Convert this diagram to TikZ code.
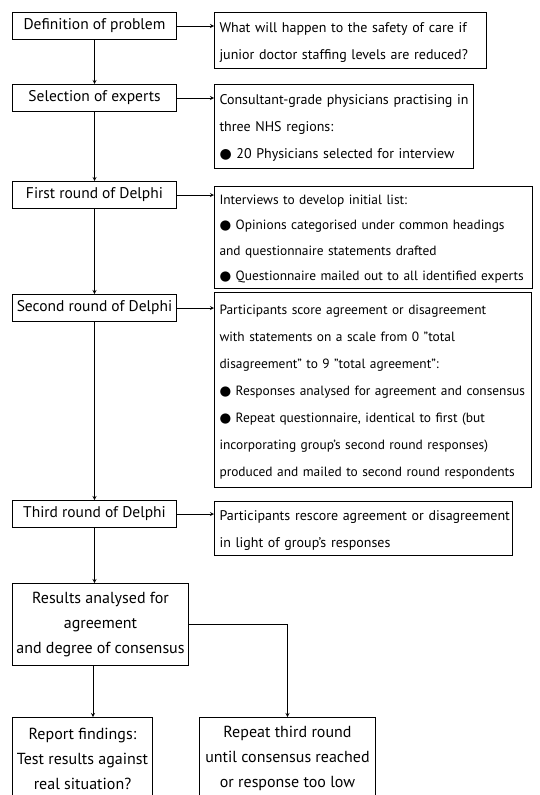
\documentclass[tikz,border=0pt]{standalone}
\usepackage{fontspec}
\setmainfont{PT Sans}
\newfontfamily\symfont{DejaVu Sans}
\usetikzlibrary{arrows}
\newcommand{\bul}{{\symfont\char"25CF}\ }
\tikzstyle{stage} = [rectangle, anchor=north west, minimum width=164pt, minimum height=27pt, inner sep=0pt, text centered, draw=black, line width=1pt, font=\fontsize{15.5}{27}\selectfont]
\tikzstyle{detail} = [rectangle, anchor=north west, inner xsep=5pt, inner ysep=0pt, align=left, draw=black, line width=1pt, font=\fontsize{14}{27}\selectfont]
\tikzstyle{outcome} = [rectangle, anchor=north west, inner sep=0pt, align=center, draw=black, line width=1pt, font=\fontsize{16}{25}\selectfont]
\tikzstyle{arrow} = [line width=0.8pt, ->, >=stealth]

\begin{document}
\begin{tikzpicture}[x=1pt, y=-1pt]
	\useasboundingbox (0,0) rectangle (540,795);
	\node (def) [stage] at (12,12) {Definition of problem};
	\node (sel) [stage] at (12,84) {Selection of experts};
	\node (rd1) [stage] at (12,181) {First round of Delphi};
	\node (rd2) [stage] at (12,294) {Second round of Delphi};
	\node (rd3) [stage] at (12,500) {Third round of Delphi};
	\node (res) [outcome, minimum width=176pt, minimum height=82pt] at (12,583) {Results analysed for\\agreement\\and degree of consensus};
	\node (rep) [outcome, minimum width=140pt, minimum height=82pt] at (12,717) {Report findings:\\Test results against\\real situation?};
	\node (rpt) [outcome, minimum width=176pt, minimum height=82pt] at (199,717) {Repeat third round\\until consensus reached\\or response too low};
	
	\node (prob) [detail, text width=262pt, minimum height=56pt] at (214,12) {\noindent\begin{tabular}{@{}l@{}}What will happen to the safety of care if\\junior doctor staffing levels are reduced?\end{tabular}};
	\node (exp) [detail, text width=249pt, minimum height=84pt] at (214,84) {\noindent\begin{tabular}{@{}l@{}}Consultant-grade physicians practising in\\three NHS regions:\\\bul 20 Physicians selected for interview\end{tabular}};
	\node (int) [detail, text width=308pt, minimum height=102pt, font=\fontsize{13.4}{25.5}\selectfont] at (214,186) {\noindent\begin{tabular}{@{}l@{}}Interviews to develop initial list:\\\bul Opinions categorised under common headings\\and questionnaire statements drafted\\\bul Questionnaire mailed out to all identified experts\end{tabular}};
	\node (score) [detail, text width=307pt, minimum height=195pt, font=\fontsize{13.4}{27}\selectfont] at (214,292) {\noindent\begin{tabular}{@{}l@{}}Participants score agreement or disagreement\\with statements on a scale from 0 "total\\disagreement" to 9 "total agreement":\\\bul Responses analysed for agreement and consensus\\\bul Repeat questionnaire, identical to first (but\\incorporating group's second round responses)\\produced and mailed to second round respondents\end{tabular}};
	\node (rescore) [detail, text width=288pt, minimum height=54pt] at (214,501) {\noindent\begin{tabular}{@{}l@{}}Participants rescore agreement or disagreement\\in light of group's responses\end{tabular}};
	
	\coordinate (lft) at (93,0);
	\draw [arrow] (def.south) -- (sel.north);
	\draw [arrow] (sel.south) -- (rd1.north);
	\draw [arrow] (rd1.south) -- (rd2.north);
	\draw [arrow] (rd2.south) -- (rd3.north);
	\draw [arrow] (rd3.south) -- (rd3.south |- res.north);
	\draw [arrow] (res.south -| lft) -- (rep.north -| lft);
	\draw [arrow] (res.east) -| (rpt.north);
	
	\draw [arrow] (def.east) -- (def.east -| prob.west);
	\draw [arrow] (sel.east) -- (sel.east -| exp.west);
	\draw [arrow] (rd1.east) -- (rd1.east -| int.west);
	\draw [arrow] (rd2.east) -- (rd2.east -| score.west);
	\draw [arrow] (rd3.east) -- (rd3.east -| rescore.west);
\end{tikzpicture}
\end{document}
